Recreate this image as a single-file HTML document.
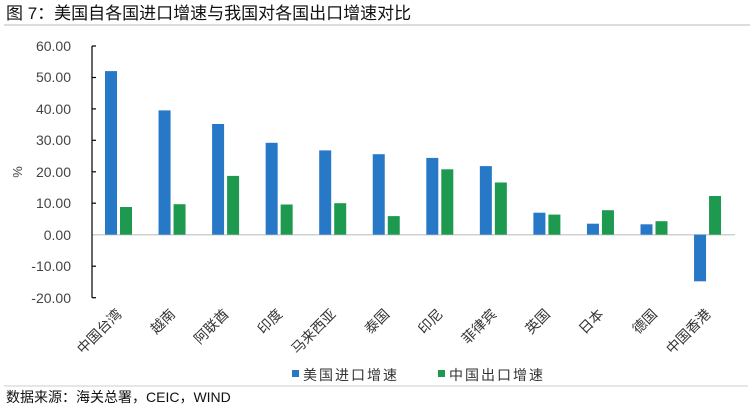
<!DOCTYPE html>
<html><head><meta charset="utf-8"><style>
body{margin:0;background:#fff;width:756px;height:414px;overflow:hidden}
svg{display:block}
</style></head><body>
<svg width="756" height="414" xmlns="http://www.w3.org/2000/svg" font-family="'Liberation Sans','Noto Sans CJK SC',sans-serif">
<text x="6" y="19" font-size="17" fill="#111">图 7：美国自各国进口增速与我国对各国出口增速对比</text>
<line x1="4" y1="25" x2="750" y2="25" stroke="#bbb" stroke-width="1"/>
<g font-size="14" fill="#444" text-anchor="end">
<text x="71" y="51">60.00</text><text x="71" y="82">50.00</text><text x="71" y="114">40.00</text>
<text x="71" y="145">30.00</text><text x="71" y="177">20.00</text><text x="71" y="208">10.00</text>
<text x="71" y="240">0.00</text><text x="71" y="271">-10.00</text><text x="71" y="303">-20.00</text>
</g>
<text x="22" y="172" font-size="13" fill="#444" transform="rotate(-90 22 172)" text-anchor="middle">%</text>
<line x1="92" y1="234.7" x2="735" y2="234.7" stroke="#d0d0d0" stroke-width="1.5"/>
<g stroke="#000" stroke-width="1.2">
<line x1="92" y1="46" x2="92" y2="297.7"/>
<line x1="92" y1="46" x2="96" y2="46"/><line x1="92" y1="77.5" x2="96" y2="77.5"/><line x1="92" y1="108.9" x2="96" y2="108.9"/>
<line x1="92" y1="140.3" x2="96" y2="140.3"/><line x1="92" y1="171.8" x2="96" y2="171.8"/><line x1="92" y1="203.2" x2="96" y2="203.2"/>
<line x1="92" y1="266.2" x2="96" y2="266.2"/><line x1="92" y1="297.7" x2="96" y2="297.7"/>
</g>
<g fill="#2878c8">
<rect x="105" y="71.1" width="12" height="163.6"/>
<rect x="158.55" y="110.4" width="12" height="124.3"/>
<rect x="212.1" y="124" width="12" height="110.7"/>
<rect x="265.65" y="142.8" width="12" height="91.9"/>
<rect x="319.2" y="150.4" width="12" height="84.3"/>
<rect x="372.75" y="154.2" width="12" height="80.5"/>
<rect x="426.3" y="157.9" width="12" height="76.8"/>
<rect x="479.85" y="166.1" width="12" height="68.6"/>
<rect x="533.4" y="212.7" width="12" height="22"/>
<rect x="586.95" y="223.7" width="12" height="11"/>
<rect x="640.5" y="224.3" width="12" height="10.4"/>
<rect x="694.05" y="234.7" width="12" height="46.6"/>
</g>
<g fill="#1e9a50">
<rect x="120" y="207" width="12" height="27.7"/>
<rect x="173.55" y="204.2" width="12" height="30.5"/>
<rect x="227.1" y="175.9" width="12" height="58.8"/>
<rect x="280.65" y="204.5" width="12" height="30.2"/>
<rect x="334.2" y="203.2" width="12" height="31.5"/>
<rect x="387.75" y="216.1" width="12" height="18.6"/>
<rect x="441.3" y="169.3" width="12" height="65.4"/>
<rect x="494.85" y="182.5" width="12" height="52.2"/>
<rect x="548.4" y="214.6" width="12" height="20.1"/>
<rect x="601.95" y="210.2" width="12" height="24.5"/>
<rect x="655.5" y="221.2" width="12" height="13.5"/>
<rect x="709.05" y="196" width="12" height="38.7"/>
</g>
<g font-size="14" fill="#333" text-anchor="end">
<text x="122.5" y="315" transform="rotate(-45 122.5 315)">中国台湾</text>
<text x="176.05" y="315" transform="rotate(-45 176.05 315)">越南</text>
<text x="229.6" y="315" transform="rotate(-45 229.6 315)">阿联酋</text>
<text x="283.15" y="315" transform="rotate(-45 283.15 315)">印度</text>
<text x="336.7" y="315" transform="rotate(-45 336.7 315)">马来西亚</text>
<text x="390.25" y="315" transform="rotate(-45 390.25 315)">泰国</text>
<text x="443.8" y="315" transform="rotate(-45 443.8 315)">印尼</text>
<text x="497.35" y="315" transform="rotate(-45 497.35 315)">菲律宾</text>
<text x="550.9" y="315" transform="rotate(-45 550.9 315)">英国</text>
<text x="604.45" y="315" transform="rotate(-45 604.45 315)">日本</text>
<text x="658" y="315" transform="rotate(-45 658 315)">德国</text>
<text x="711.55" y="315" transform="rotate(-45 711.55 315)">中国香港</text>
</g>
<rect x="292" y="370" width="7" height="7" fill="#2878c8"/>
<text x="303" y="380" font-size="14" fill="#333" letter-spacing="2">美国进口增速</text>
<rect x="438" y="370" width="7" height="7" fill="#1e9a50"/>
<text x="449" y="380" font-size="14" fill="#333" letter-spacing="2">中国出口增速</text>
<line x1="4" y1="386" x2="748" y2="386" stroke="#ccc" stroke-width="1"/>
<text x="6" y="402" font-size="14" fill="#111">数据来源：海关总署，CEIC，WIND</text>
</svg>
</body></html>
